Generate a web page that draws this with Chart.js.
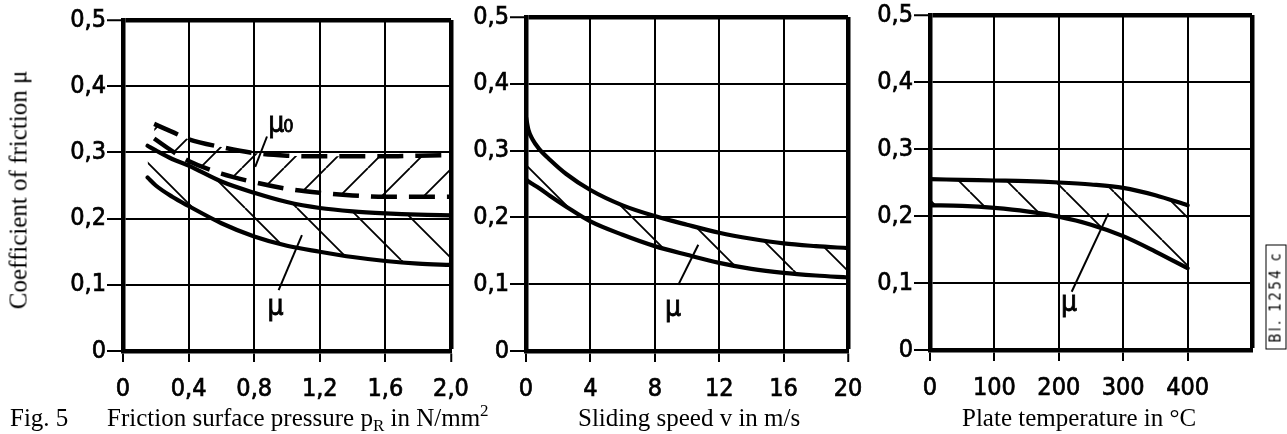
<!DOCTYPE html>
<html>
<head>
<meta charset="utf-8">
<script src="https://cdn.jsdelivr.net/npm/chart.js@4/dist/chart.umd.min.js"></script>
<style>
html,body{margin:0;padding:0;background:#fff;}
#wrap{position:relative;width:1287px;height:434px;overflow:hidden;background:#fff;}
canvas{position:absolute;top:0;}
.t{position:absolute;font-family:"Liberation Serif","Times New Roman",serif;font-size:25px;color:#000;white-space:nowrap;line-height:1;}
.t sub{font-size:17px;vertical-align:-5px;line-height:0;}
.t sup{font-size:17px;vertical-align:10px;line-height:0;}
#ytitle{left:18px;top:190px;transform:translate(-50%,-50%) rotate(-90deg);}
#bl{position:absolute;left:1276px;top:297px;width:95px;transform:translate(-50%,-50%) rotate(-90deg);border:1.5px solid #000;padding:0 4px;font-family:"DejaVu Sans Condensed",sans-serif;font-size:15px;letter-spacing:2.4px;line-height:19px;white-space:nowrap;text-align:center;}
</style>
</head>
<body>
<div id="wrap">
  <canvas id="c1" width="470" height="434" style="left:0px"></canvas>
  <canvas id="c2" width="400" height="434" style="left:470px"></canvas>
  <canvas id="c3" width="417" height="434" style="left:870px"></canvas>
  <div class="t" id="ytitle">Coefficient of friction μ</div>
  <div class="t" style="left:10px;top:405px;">Fig. 5</div>
  <div class="t" style="left:107px;top:405px;">Friction surface pressure p<sub>R</sub> in N/mm<sup>2</sup></div>
  <div class="t" style="left:578px;top:405px;">Sliding speed v in m/s</div>
  <div class="t" style="left:962px;top:405px;">Plate temperature in °C</div>
  <div id="bl">Bl. 1254 c</div>
</div>
<script>
// ---------- tick values and labels ----------
const yTickValues = [0, 0.1, 0.2, 0.3, 0.4, 0.5];
const yTickLabels = ['0', '0,1', '0,2', '0,3', '0,4', '0,5'];
const p1XTickValues = [0, 0.4, 0.8, 1.2, 1.6, 2.0];
const p1XTickLabels = ['0', '0,4', '0,8', '1,2', '1,6', '2,0'];
const p2XTickValues = [0, 4, 8, 12, 16, 20];
const p2XTickLabels = ['0', '4', '8', '12', '16', '20'];
const p3XTickValues = [0, 100, 200, 300, 400, 500];
const p3XTickLabels = ['0', '100', '200', '300', '400', ''];

// ---------- panel 1: friction surface pressure ----------
const p1X       = [0.15, 0.2, 0.3, 0.4, 0.6, 0.8, 1.0, 1.2, 1.4, 1.6, 1.8, 2.0];
const p1MuUpper = [0.310, 0.303, 0.290, 0.280, 0.256, 0.239, 0.225, 0.216, 0.211, 0.208, 0.206, 0.205];
const p1MuLower = [0.262, 0.250, 0.233, 0.219, 0.193, 0.173, 0.159, 0.150, 0.142, 0.136, 0.132, 0.130];
const p1Mu0X     = [0.19, 0.3, 0.4, 0.6, 0.8, 1.0, 1.2, 1.4, 1.6, 1.8, 2.0];
const p1Mu0Upper = [0.343, 0.331, 0.320, 0.308, 0.299, 0.295, 0.294, 0.294, 0.294, 0.295, 0.296];
const p1Mu0Lower = [0.321, 0.302, 0.287, 0.268, 0.255, 0.245, 0.239, 0.235, 0.233, 0.233, 0.233];
const p1Mu0LeaderX = [0.878, 0.806];
const p1Mu0LeaderY = [0.324, 0.278];
const p1MuLeaderX  = [0.949, 1.091];
const p1MuLeaderY  = [0.092, 0.175];
const p1LabelText  = ['μ', 'μ'];
const p1LabelSub   = ['0', ''];
const p1LabelX     = [0.935, 0.93];
const p1LabelY     = [0.342, 0.066];

// ---------- panel 2: sliding speed ----------
const p2X       = [0, 0.15, 0.4, 0.8, 1.5, 2.5, 4, 6, 8, 10, 12, 14, 16, 18, 20];
const p2MuUpper = [0.350, 0.331, 0.317, 0.303, 0.286, 0.265, 0.241, 0.218, 0.202, 0.189, 0.177, 0.168, 0.161, 0.157, 0.154];
const p2MuLower = [0.257, 0.254, 0.250, 0.244, 0.232, 0.216, 0.194, 0.174, 0.157, 0.144, 0.132, 0.123, 0.117, 0.113, 0.110];
const p2MuLeaderX = [9.46, 10.7];
const p2MuLeaderY = [0.099, 0.159];
const p2LabelText = ['μ'];
const p2LabelSub  = [''];
const p2LabelX    = [9.13];
const p2LabelY    = [0.064];

// ---------- panel 3: plate temperature ----------
const p3X       = [0, 50, 100, 150, 200, 250, 300, 350, 400];
const p3MuUpper = [0.255, 0.254, 0.253, 0.252, 0.250, 0.247, 0.242, 0.231, 0.216];
const p3MuLower = [0.216, 0.215, 0.212, 0.207, 0.199, 0.187, 0.170, 0.147, 0.122];
const p3MuLeaderX = [220, 277];
const p3MuLeaderY = [0.087, 0.204];
const p3LabelText = ['μ'];
const p3LabelSub  = [''];
const p3LabelX    = [216];
const p3LabelY    = [0.069];

// ---------- helpers ----------
const TICK_FONT = {family: '"DejaVu Sans Condensed", sans-serif', size: 25};
const zip = (xs, ys) => xs.map((x, i) => ({x: x, y: ys[i]}));

function hatch(spacing, dir, offset) {
  const c = document.createElement('canvas');
  c.width = spacing; c.height = spacing;
  const g = c.getContext('2d');
  g.strokeStyle = '#000'; g.lineWidth = 1.8; g.beginPath();
  for (let k = -1; k <= 1; k++) {
    if (dir === 'back') { g.moveTo(k * spacing, 0); g.lineTo(k * spacing + spacing, spacing); }
    else { g.moveTo(k * spacing, spacing); g.lineTo(k * spacing + spacing, 0); }
  }
  g.stroke();
  const p = g.createPattern(c, 'repeat');
  p.setTransform(new DOMMatrix().translate(offset, 0));
  return p;
}

function curve(data, extra) {
  return Object.assign({
    data: data, borderColor: '#000', borderWidth: 4.2, pointRadius: 0,
    cubicInterpolationMode: 'monotone', fill: false, borderCapStyle: 'round'
  }, extra || {});
}
function leader(xs, ys) {
  return {data: zip(xs, ys), borderColor: '#000', borderWidth: 2, pointRadius: 0, fill: false, tension: 0};
}

const labelPlugin = {
  id: 'muLabels',
  afterDatasetsDraw(chart) {
    const o = chart.options.plugins.muLabels;
    if (!o) return;
    const ctx = chart.ctx, xs = chart.scales.x, ys = chart.scales.y;
    ctx.save();
    ctx.fillStyle = '#000';
    ctx.strokeStyle = '#000';
    ctx.lineWidth = 0.8;
    ctx.textBaseline = 'middle';
    o.text.forEach((t, i) => {
      const px = xs.getPixelForValue(o.x[i]);
      const py = ys.getPixelForValue(o.y[i]);
      ctx.font = '28px "DejaVu Sans Condensed", sans-serif';
      ctx.textAlign = 'center';
      ctx.strokeText(t, px, py);
      ctx.fillText(t, px, py);
      if (o.sub[i]) {
        const w = ctx.measureText(t).width;
        ctx.font = '18px "DejaVu Sans Condensed", sans-serif';
        ctx.textAlign = 'left';
        ctx.strokeText(o.sub[i], px + w / 2 - 1, py + 3);
        ctx.fillText(o.sub[i], px + w / 2 - 1, py + 3);
      }
    });
    ctx.restore();
  }
};

function makeChart(id, p) {
  const xMax = p.xTicks[p.xTicks.length - 1];
  return new Chart(document.getElementById(id), {
    type: 'line',
    data: {datasets: p.datasets},
    plugins: [labelPlugin],
    options: {
      responsive: false, animation: false, events: [],
      layout: {padding: {top: p.top, right: p.right, left: 0, bottom: 0}},
      plugins: {legend: {display: false}, tooltip: {enabled: false}, muLabels: p.labels},
      scales: {
        x: {
          type: 'linear', min: 0, max: xMax,
          afterBuildTicks: s => { s.ticks = p.xTicks.map(v => ({value: v})); },
          afterFit: s => { s.height = p.xHeight; s.paddingLeft = 0; s.paddingRight = 0; },
          ticks: {autoSkip: false, maxRotation: 0, color: '#000', font: TICK_FONT, padding: 12,
                  textStrokeColor: '#000', textStrokeWidth: 0.7,
                  callback: (v, i) => p.xLabels[i]},
          grid: {color: '#000', tickLength: 11, tickWidth: 2,
                 lineWidth: c => (c.tick && c.tick.value === xMax) ? 4.5 : 2,
                 tickColor: c => (p.xLabels[c.index] === '' ? 'rgba(0,0,0,0)' : '#000')},
          border: {display: true, width: 4.5, color: '#000'}
        },
        y: {
          type: 'linear', min: 0, max: 0.5,
          afterBuildTicks: s => { s.ticks = yTickValues.map(v => ({value: v})); },
          afterFit: s => { s.width = p.yWidth; s.paddingTop = 0; s.paddingBottom = 0; },
          ticks: {autoSkip: false, color: '#000', font: TICK_FONT, padding: 1,
                  textStrokeColor: '#000', textStrokeWidth: 0.7,
                  callback: (v, i) => yTickLabels[i]},
          grid: {color: '#000', tickLength: 16, tickWidth: 2,
                 lineWidth: c => (c.tick && c.tick.value === 0.5) ? 4.5 : 2},
          border: {display: true, width: 4.5, color: '#000'}
        }
      }
    }
  });
}

// panel 1
makeChart('c1', {
  xTicks: p1XTickValues, xLabels: p1XTickLabels, top: 20, right: 19, yWidth: 123, xHeight: 83,
  labels: {text: p1LabelText, sub: p1LabelSub, x: p1LabelX, y: p1LabelY},
  datasets: [
    curve(zip(p1Mu0X, p1Mu0Upper), {fill: '+1', backgroundColor: hatch(42, 'fwd', 32), borderDash: [26, 12], borderCapStyle: 'butt', borderWidth: 4.5}),
    curve(zip(p1Mu0X, p1Mu0Lower), {borderDash: [26, 12], borderCapStyle: 'butt', borderWidth: 4.5}),
    curve(zip(p1X, p1MuUpper), {fill: '+1', backgroundColor: hatch(52, 'back', 37)}),
    curve(zip(p1X, p1MuLower)),
    leader(p1Mu0LeaderX, p1Mu0LeaderY),
    leader(p1MuLeaderX, p1MuLeaderY)
  ]
});
// panel 2
makeChart('c2', {
  xTicks: p2XTickValues, xLabels: p2XTickLabels, top: 17, right: 22, yWidth: 56, xHeight: 83,
  labels: {text: p2LabelText, sub: p2LabelSub, x: p2LabelX, y: p2LabelY},
  datasets: [
    curve(zip(p2X, p2MuUpper), {fill: '+1', backgroundColor: hatch(54, 'back', 53)}),
    curve(zip(p2X, p2MuLower)),
    leader(p2MuLeaderX, p2MuLeaderY)
  ]
});
// panel 3
makeChart('c3', {
  xTicks: p3XTickValues, xLabels: p3XTickLabels, top: 15, right: 35, yWidth: 60, xHeight: 84,
  labels: {text: p3LabelText, sub: p3LabelSub, x: p3LabelX, y: p3LabelY},
  datasets: [
    curve(zip(p3X, p3MuUpper), {fill: '+1', backgroundColor: hatch(48, 'back', 4)}),
    curve(zip(p3X, p3MuLower)),
    leader(p3MuLeaderX, p3MuLeaderY)
  ]
});
</script>
</body>
</html>
